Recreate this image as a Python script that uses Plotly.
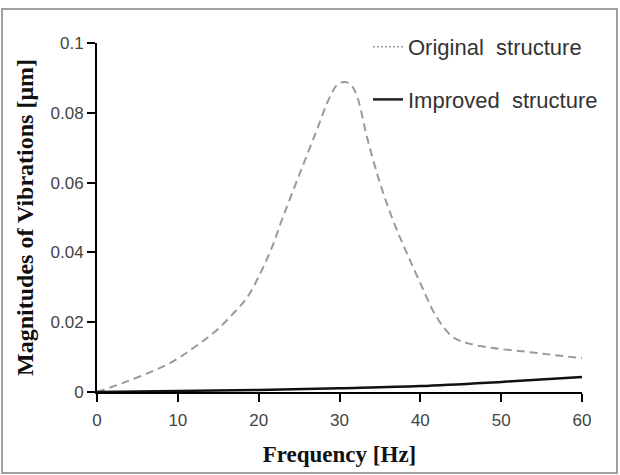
import plotly.graph_objects as go

# Original structure (dashed grey)
orig_x = [0, 3.2, 6.6, 9.3, 11.9, 14.4, 16.7, 18.6, 20.2, 21.6, 23.0, 25.1, 27.2, 28.8, 29.8, 30.7,
          31.5, 32.2, 33.4, 35.0, 36.6, 38.2, 40.0, 42.0, 44.0, 45.8, 49.0, 53.2, 56.5, 60]
orig_y = [0, 0.0026, 0.0057, 0.0086, 0.0126, 0.0169, 0.0221, 0.0272, 0.034, 0.0412, 0.0501, 0.0627,
          0.0751, 0.0845, 0.0882, 0.0888, 0.0878, 0.0845, 0.0731, 0.0599, 0.0493, 0.0405, 0.0312,
          0.0215, 0.0158, 0.014, 0.0126, 0.0115, 0.0106, 0.0097]

# Improved structure (solid black)
impr_x = [0, 10, 20, 30, 40, 50, 60]
impr_y = [0, 0.0003, 0.0006, 0.0011, 0.0017, 0.0029, 0.0043]

x_ticks = [0, 10, 20, 30, 40, 50, 60]
y_ticks = [0, 0.02, 0.04, 0.06, 0.08, 0.1]
y_tick_text = ["0", "0.02", "0.04", "0.06", "0.08", "0.1"]

fig = go.Figure()

fig.add_trace(go.Scatter(x=orig_x, y=orig_y, mode="lines", line_shape="spline",
                         line=dict(color="#9a9a9a", width=2, dash="8px,5px"),
                         showlegend=False))
fig.add_trace(go.Scatter(x=impr_x, y=impr_y, mode="lines", line_shape="spline",
                         line=dict(color="#111111", width=2.5),
                         showlegend=False))
# legend samples
fig.add_trace(go.Scatter(x=[None], y=[None], mode="lines", name="Original\u00a0 structure",
                         legendgroup="a",
                         line=dict(color="#9a9a9a", width=1.5, dash="2px,2px")))
fig.add_trace(go.Scatter(x=[None], y=[None], mode="lines", name="Improved\u00a0 structure",
                         legendgroup="b",
                         line=dict(color="#222222", width=2.5)))

W, H = 620, 475
L, R, T, B = 97, 38, 43, 83
pw, ph = W - L - R, H - T - B

def px(xp):
    return (xp - L) / pw

def py(yp):
    return (H - B - yp) / ph

fig.add_shape(type="rect", xref="paper", yref="paper",
              x0=px(2), x1=px(617), y0=py(473), y1=py(9),
              line=dict(color="#a0a0a0", width=2), layer="below")

fig.update_layout(
    width=W, height=H,
    margin=dict(l=L, r=R, t=T, b=B),
    paper_bgcolor="white", plot_bgcolor="white",
    font=dict(family="Liberation Sans, Arial, sans-serif", color="#444444"),
    legend=dict(x=px(368), y=py(26), xanchor="left", yanchor="top",
                bgcolor="rgba(0,0,0,0)", tracegroupgap=21,
                font=dict(size=22, color="#333333",
                          family="Liberation Sans, Arial, sans-serif")),
    xaxis=dict(range=[0, 60], tickvals=x_ticks, ticks="outside", ticklen=8,
               tickwidth=2, tickcolor="black", showline=True, linecolor="black",
               linewidth=2, showgrid=False, zeroline=False, ticklabelstandoff=4,
               tickfont=dict(size=17, color="#444444"),
               title=dict(text="Frequency [Hz]", standoff=16,
                          font=dict(family="Liberation Serif, Times New Roman, serif",
                                    size=23, color="#111111", weight="bold"))),
    yaxis=dict(range=[0, 0.1], tickvals=y_ticks, ticktext=y_tick_text,
               ticks="outside", ticklen=8, tickwidth=2, tickcolor="black",
               showline=True, linecolor="black", linewidth=2, showgrid=False,
               zeroline=False, tickfont=dict(size=17, color="#444444"),
               title=dict(text="Magnitudes of Vibrations [\u03bcm]", standoff=10,
                          font=dict(family="Liberation Serif, Times New Roman, serif",
                                    size=24, color="#111111", weight="bold"))),
)

fig.write_html("out.html")
